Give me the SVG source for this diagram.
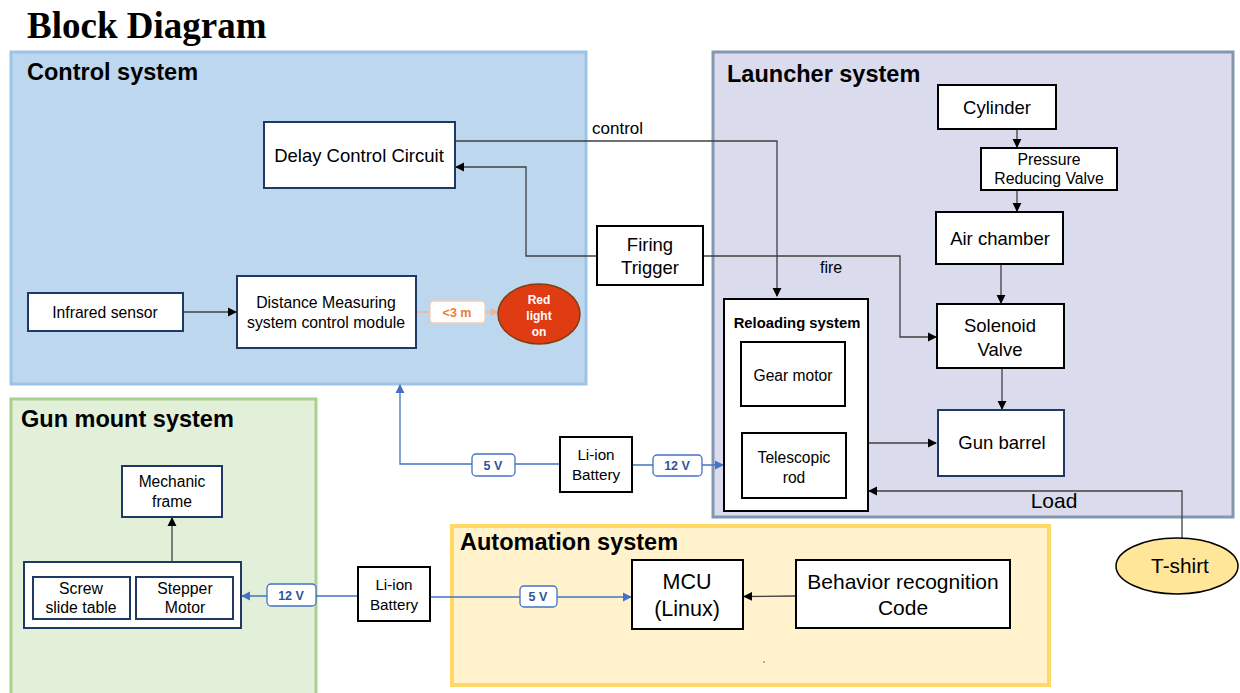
<svg xmlns="http://www.w3.org/2000/svg" width="1240" height="693" viewBox="0 0 1240 693">
<defs>
<style>
.t{font-family:"Liberation Sans",Arial,sans-serif;fill:#000;text-anchor:middle}
.h{font-family:"Liberation Sans",Arial,sans-serif;font-weight:bold;font-size:23.5px;fill:#000}
.n{fill:#fff;stroke:#000;stroke-width:2}
.nb{fill:#fff;stroke:#1f3864;stroke-width:2}
.c{fill:none;stroke:#404040;stroke-width:1.3}
.p{fill:none;stroke:#4472c4;stroke-width:1.3}
.vl{fill:#fff;stroke:#4472c4;stroke-width:1.3}
.vt{font-family:"Liberation Sans",Arial,sans-serif;font-weight:bold;font-size:12.5px;fill:#2f5597;text-anchor:middle}
</style>
<marker id="a" viewBox="0 0 10 10" refX="9" refY="5" markerWidth="7" markerHeight="7" orient="auto"><path d="M0,0L10,5L0,10z" fill="#000"/></marker>
<marker id="ab" viewBox="0 0 10 10" refX="9" refY="5" markerWidth="7" markerHeight="7" orient="auto"><path d="M0,0L10,5L0,10z" fill="#4472c4"/></marker>
<marker id="ao" viewBox="0 0 10 10" refX="9" refY="5" markerWidth="6" markerHeight="6" orient="auto"><path d="M0,0L10,5L0,10z" fill="#f4b183"/></marker>
</defs>
<rect width="1240" height="693" fill="#fff"/>
<text x="27" y="38" font-family="'Liberation Serif','Times New Roman',serif" font-weight="bold" font-size="37">Block Diagram</text>

<g id="control-system">
<rect x="11" y="52" width="575" height="332" fill="#bdd7ee" stroke="#9dc3e6" stroke-width="3"/>
<text class="h" x="27" y="80">Control system</text>
</g>
<g id="launcher-system">
<rect x="713" y="52" width="520" height="465" fill="#dadcee" stroke="#8497b0" stroke-width="3"/>
<text class="h" x="727" y="82">Launcher system</text>
</g>
<g id="gun-mount-system">
<rect x="11" y="399" width="305" height="300" fill="#e2efd9" stroke="#a9d18e" stroke-width="3"/>
<text class="h" x="21" y="427">Gun mount system</text>
</g>
<g id="automation-system">
<rect x="452" y="526" width="597" height="159" fill="#fff2cc" stroke="#ffd966" stroke-width="4"/>
<text class="h" x="460" y="550">Automation system</text>
<circle cx="764" cy="662" r="0.8" fill="#555"/>
</g>

<g id="connectors">
<polyline class="c" points="455,141 777,141 777,296" marker-end="url(#a)"/>
<text x="592" y="134" font-family="'Liberation Sans',Arial,sans-serif" font-size="17">control</text>
<polyline class="c" points="597,256 526,256 526,167 456,167" marker-end="url(#a)"/>
<polyline class="c" points="703,256 900,256 900,337 936,337" marker-end="url(#a)"/>
<text x="820" y="273" font-family="'Liberation Sans',Arial,sans-serif" font-size="16">fire</text>
<line class="c" x1="183" y1="312" x2="236" y2="312" marker-end="url(#a)"/>
<line x1="416" y1="312" x2="430" y2="312" stroke="#f4b183" stroke-width="1.3"/>
<line x1="485" y1="312" x2="498" y2="312" stroke="#f4b183" stroke-width="1.3" marker-end="url(#ao)"/>
<line class="c" x1="1017" y1="129" x2="1017" y2="147" marker-end="url(#a)"/>
<line class="c" x1="1017" y1="190" x2="1017" y2="211" marker-end="url(#a)"/>
<line class="c" x1="1001" y1="264" x2="1001" y2="303" marker-end="url(#a)"/>
<line class="c" x1="1002" y1="368" x2="1002" y2="409" marker-end="url(#a)"/>
<line class="c" x1="868" y1="443" x2="936" y2="443" marker-end="url(#a)"/>
<polyline class="c" points="1182,540 1182,491 869,491" marker-end="url(#a)"/>
<text x="1054" y="508" font-family="'Liberation Sans',Arial,sans-serif" font-size="21" text-anchor="middle">Load</text>
<polyline class="p" points="560,464 400,464 400,385" marker-end="url(#ab)"/>
<line class="p" x1="632" y1="465" x2="723" y2="465" marker-end="url(#ab)"/>
<line class="c" x1="172" y1="562" x2="172" y2="518" marker-end="url(#a)"/>
<line class="p" x1="358" y1="596" x2="242" y2="596" marker-end="url(#ab)"/>
<line class="p" x1="430" y1="597" x2="631" y2="597" marker-end="url(#ab)"/>
<line class="c" x1="796" y1="596" x2="744" y2="596.5" marker-end="url(#a)"/>
<rect class="vl" x="472" y="454" width="43" height="22" rx="4"/>
<text class="vt" x="493" y="470">5 V</text>
<rect class="vl" x="653" y="455" width="49" height="21" rx="4"/>
<text class="vt" x="677" y="470">12 V</text>
<rect class="vl" x="267" y="584" width="49" height="22" rx="4"/>
<text class="vt" x="291" y="600">12 V</text>
<rect class="vl" x="520" y="586" width="37" height="21" rx="4"/>
<text class="vt" x="538" y="601">5 V</text>
<rect x="430" y="301" width="55" height="22" rx="4" fill="#fff" stroke="#f8cbad" stroke-width="1.3"/>
<text x="457" y="317" font-family="'Liberation Sans',Arial,sans-serif" font-weight="bold" font-size="12.5" fill="#ed7d31" text-anchor="middle">&lt;3 m</text>
</g>

<g id="delay-control-circuit">
<rect class="nb" x="264" y="122" width="191" height="66"/>
<text class="t" x="359" y="162" font-size="18.5">Delay Control Circuit</text>
</g>
<g id="firing-trigger">
<rect class="n" x="597" y="226" width="106" height="59"/>
<text class="t" x="650" y="251" font-size="18.5">Firing</text>
<text class="t" x="650" y="274" font-size="18.5">Trigger</text>
</g>
<g id="infrared-sensor">
<rect class="nb" x="28" y="293" width="155" height="38"/>
<text class="t" x="105" y="318" font-size="15.7">Infrared sensor</text>
</g>
<g id="distance-measuring">
<rect class="nb" x="237" y="276" width="179" height="72"/>
<text class="t" x="326" y="308" font-size="15.8">Distance Measuring</text>
<text class="t" x="326" y="328" font-size="15.8">system control module</text>
</g>
<g id="red-light">
<ellipse cx="539" cy="314" rx="41" ry="30" fill="#e03c14" stroke="#843c0c" stroke-width="1.5"/>
<text class="t" x="539" y="304" font-size="12" font-weight="bold" style="fill:#fff">Red</text>
<text class="t" x="539" y="320" font-size="12" font-weight="bold" style="fill:#fff">light</text>
<text class="t" x="539" y="336" font-size="12" font-weight="bold" style="fill:#fff">on</text>
</g>
<g id="cylinder">
<rect class="n" x="938" y="85" width="118" height="44"/>
<text class="t" x="997" y="114" font-size="18.5">Cylinder</text>
</g>
<g id="pressure-reducing-valve">
<rect class="n" x="981" y="148" width="136" height="42"/>
<text class="t" x="1049" y="165" font-size="15.8">Pressure</text>
<text class="t" x="1049" y="184" font-size="15.8">Reducing Valve</text>
</g>
<g id="air-chamber">
<rect class="n" x="936" y="212" width="127" height="52"/>
<text class="t" x="1000" y="245" font-size="18.5">Air chamber</text>
</g>
<g id="solenoid-valve">
<rect class="n" x="937" y="304" width="127" height="64"/>
<text class="t" x="1000" y="332" font-size="18.5">Solenoid</text>
<text class="t" x="1000" y="356" font-size="18.5">Valve</text>
</g>
<g id="gun-barrel">
<rect class="nb" x="938" y="410" width="126" height="66"/>
<text class="t" x="1002" y="449" font-size="18.5">Gun barrel</text>
</g>
<g id="reloading-system">
<rect class="n" x="724" y="299" width="144" height="212"/>
<text class="t" x="797" y="328" font-size="14.8" font-weight="bold">Reloading system</text>
</g>
<g id="gear-motor">
<rect class="n" x="741" y="342" width="104" height="64"/>
<text class="t" x="793" y="381" font-size="15.6">Gear motor</text>
</g>
<g id="telescopic-rod">
<rect class="n" x="742" y="433" width="104" height="65"/>
<text class="t" x="794" y="463" font-size="15.6">Telescopic</text>
<text class="t" x="794" y="483" font-size="15.6">rod</text>
</g>
<g id="t-shirt">
<ellipse cx="1177" cy="566" rx="61" ry="28" fill="#ffe699" stroke="#000" stroke-width="1.5"/>
<text class="t" x="1180" y="573" font-size="20.8">T-shirt</text>
</g>
<g id="li-ion-battery-top">
<rect class="n" x="560" y="437" width="72" height="55"/>
<text class="t" x="596" y="460" font-size="15.2">Li-ion</text>
<text class="t" x="596" y="480" font-size="15.2">Battery</text>
</g>
<g id="mechanic-frame">
<rect class="nb" x="122" y="466" width="100" height="51"/>
<text class="t" x="172" y="487" font-size="15.6">Mechanic</text>
<text class="t" x="172" y="507" font-size="15.6">frame</text>
</g>
<g id="slide-motor-assembly">
<rect class="nb" x="24" y="562" width="217" height="66"/>
</g>
<g id="screw-slide-table">
<rect class="nb" x="33" y="577" width="97" height="42"/>
<text class="t" x="81" y="594" font-size="15.8">Screw</text>
<text class="t" x="81" y="613" font-size="15.8">slide table</text>
</g>
<g id="stepper-motor">
<rect class="nb" x="136" y="577" width="97" height="42"/>
<text class="t" x="185" y="594" font-size="15.8">Stepper</text>
<text class="t" x="185" y="613" font-size="15.8">Motor</text>
</g>
<g id="li-ion-battery-bottom">
<rect class="n" x="358" y="567" width="72" height="54"/>
<text class="t" x="394" y="590" font-size="15.2">Li-ion</text>
<text class="t" x="394" y="610" font-size="15.2">Battery</text>
</g>
<g id="mcu">
<rect class="n" x="632" y="560" width="111" height="69"/>
<text class="t" x="687" y="589" font-size="21.5">MCU</text>
<text class="t" x="687" y="616" font-size="21.5">(Linux)</text>
</g>
<g id="behavior-recognition">
<rect class="n" x="796" y="560" width="214" height="68"/>
<text class="t" x="903" y="589" font-size="21">Behavior recognition</text>
<text class="t" x="903" y="615" font-size="21">Code</text>
</g>
</svg>
